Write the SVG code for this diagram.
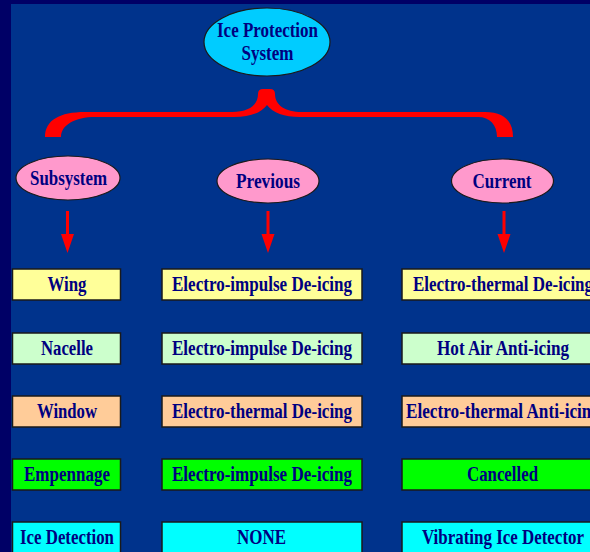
<svg xmlns="http://www.w3.org/2000/svg" width="590" height="552" viewBox="0 0 590 552">
<defs>
<style>
.t{font-family:"Liberation Serif","Times New Roman",serif;font-weight:bold;font-size:20px;fill:#000080;text-anchor:middle}
.box{stroke:#1a1a1a;stroke-width:1.5}
.ell{stroke:#1a1a1a;stroke-width:1.2}
.arr{fill:#ff0000}
</style>
</defs>
<rect x="0" y="0" width="590" height="552" fill="#000066"/>
<rect x="11" y="4" width="579" height="548" fill="#00338C"/>

<g id="connectors">
<path class="arr" d="M45,137 C45,120 60,112 85,112 L232,112 C249,112 258,105 258,94 Q258,89 263,89 L270,89 Q275,89 275,94 C275,105 285,112 302,112 L485,112 C505,112 513,122 513,137 L497,137 C497,125 490,117 478,117 L300,117 C284,117 273,113 267,105 C261,113 250,117 234,117 L95,117 C75,117 61,125 61,137 Z"/>
<path class="arr" d="M66,211 H69 V234 H74 L67.5,253 L61,234 H66 Z"/>
<path class="arr" d="M266.5,211 H269.5 V234 H274.5 L268,253 L261.5,234 H266.5 Z"/>
<path class="arr" d="M502.5,211 H505.5 V234 H510.5 L504,253 L497.5,234 H502.5 Z"/>
</g>

<g id="root">
<ellipse class="ell" cx="267" cy="42" rx="63" ry="34" fill="#00CCFF"/>
<text class="t" x="267.5" y="36.5" textLength="101" lengthAdjust="spacingAndGlyphs">Ice Protection</text>
<text class="t" x="267.5" y="59.5" textLength="52" lengthAdjust="spacingAndGlyphs">System</text>
</g>

<g id="subsystem">
<ellipse class="ell" cx="68" cy="178" rx="52" ry="22" fill="#FF99CC"/>
<text class="t" x="68.5" y="185" textLength="77" lengthAdjust="spacingAndGlyphs">Subsystem</text>
</g>
<g id="previous">
<ellipse class="ell" cx="268" cy="181" rx="51" ry="22" fill="#FF99CC"/>
<text class="t" x="268" y="188" textLength="64" lengthAdjust="spacingAndGlyphs">Previous</text>
</g>
<g id="current">
<ellipse class="ell" cx="502.5" cy="181" rx="51" ry="22" fill="#FF99CC"/>
<text class="t" x="502" y="188" textLength="59" lengthAdjust="spacingAndGlyphs">Current</text>
</g>

<!-- Row 1 -->
<g id="wing">
<rect class="box" x="12.5" y="269" width="108" height="31" fill="#FFFF99"/>
<text class="t" x="67" y="291" textLength="39" lengthAdjust="spacingAndGlyphs">Wing</text>
</g>
<g id="wing-prev">
<rect class="box" x="162" y="269" width="200" height="31" fill="#FFFF99"/>
<text class="t" x="262" y="291" textLength="180" lengthAdjust="spacingAndGlyphs">Electro-impulse De-icing</text>
</g>
<g id="wing-cur">
<rect class="box" x="402" y="269" width="202" height="31" fill="#FFFF99"/>
<text class="t" x="503" y="291" textLength="180" lengthAdjust="spacingAndGlyphs">Electro-thermal De-icing</text>
</g>

<!-- Row 2 -->
<g id="nacelle">
<rect class="box" x="12.5" y="333" width="108" height="31" fill="#CCFFCC"/>
<text class="t" x="67" y="355" textLength="52" lengthAdjust="spacingAndGlyphs">Nacelle</text>
</g>
<g id="nacelle-prev">
<rect class="box" x="162" y="333" width="200" height="31" fill="#CCFFCC"/>
<text class="t" x="262" y="355" textLength="180" lengthAdjust="spacingAndGlyphs">Electro-impulse De-icing</text>
</g>
<g id="nacelle-cur">
<rect class="box" x="402" y="333" width="202" height="31" fill="#CCFFCC"/>
<text class="t" x="503" y="355" textLength="132" lengthAdjust="spacingAndGlyphs">Hot Air Anti-icing</text>
</g>

<!-- Row 3 -->
<g id="window">
<rect class="box" x="12.5" y="396" width="108" height="31" fill="#FFCC99"/>
<text class="t" x="67" y="418" textLength="60" lengthAdjust="spacingAndGlyphs">Window</text>
</g>
<g id="window-prev">
<rect class="box" x="162" y="396" width="200" height="31" fill="#FFCC99"/>
<text class="t" x="262" y="418" textLength="180" lengthAdjust="spacingAndGlyphs">Electro-thermal De-icing</text>
</g>
<g id="window-cur">
<rect class="box" x="402" y="396" width="202" height="31" fill="#FFCC99"/>
<text class="t" x="503" y="418" textLength="194" lengthAdjust="spacingAndGlyphs">Electro-thermal Anti-icing</text>
</g>

<!-- Row 4 -->
<g id="empennage">
<rect class="box" x="12.5" y="459" width="108" height="31" fill="#00FF00"/>
<text class="t" x="67" y="481" textLength="86" lengthAdjust="spacingAndGlyphs">Empennage</text>
</g>
<g id="empennage-prev">
<rect class="box" x="162" y="459" width="200" height="31" fill="#00FF00"/>
<text class="t" x="262" y="481" textLength="180" lengthAdjust="spacingAndGlyphs">Electro-impulse De-icing</text>
</g>
<g id="empennage-cur">
<rect class="box" x="402" y="459" width="202" height="31" fill="#00FF00"/>
<text class="t" x="502.5" y="481" textLength="71" lengthAdjust="spacingAndGlyphs">Cancelled</text>
</g>

<!-- Row 5 -->
<g id="ice-detection">
<rect class="box" x="12.5" y="522" width="108" height="31" fill="#00FFFF"/>
<text class="t" x="67" y="544" textLength="94" lengthAdjust="spacingAndGlyphs">Ice Detection</text>
</g>
<g id="ice-detection-prev">
<rect class="box" x="162" y="522" width="200" height="31" fill="#00FFFF"/>
<text class="t" x="261.5" y="544" textLength="49" lengthAdjust="spacingAndGlyphs">NONE</text>
</g>
<g id="ice-detection-cur">
<rect class="box" x="402" y="522" width="202" height="31" fill="#00FFFF"/>
<text class="t" x="503" y="544" textLength="162" lengthAdjust="spacingAndGlyphs">Vibrating Ice Detector</text>
</g>
</svg>
